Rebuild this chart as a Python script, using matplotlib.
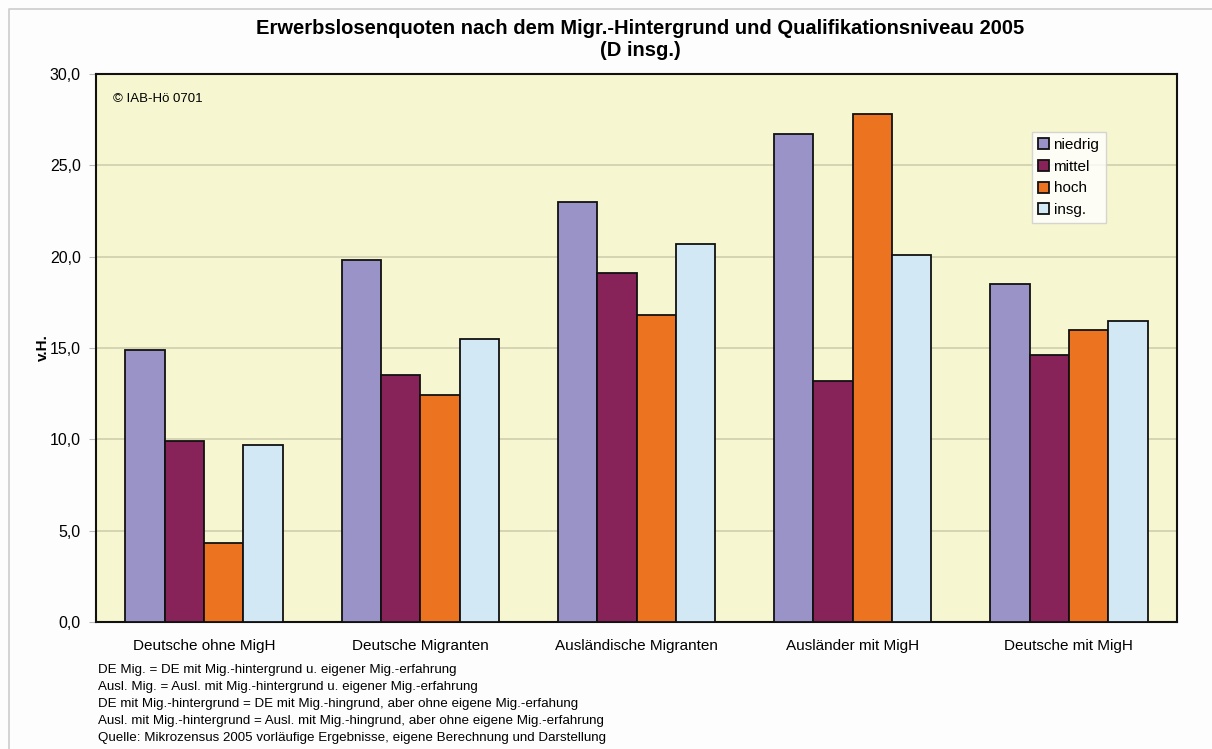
"""Erwerbslosenquoten nach Migrationshintergrund und Qualifikationsniveau 2005."""
import matplotlib
matplotlib.use("Agg")
import matplotlib.pyplot as plt
import numpy as np
from matplotlib.lines import Line2D

plt.rcParams["font.family"] = ["Liberation Sans", "DejaVu Sans"]

groups = ["Deutsche ohne MigH", "Deutsche Migranten", "Ausländische Migranten",
          "Ausländer mit MigH", "Deutsche mit MigH"]
series = ["niedrig", "mittel", "hoch", "insg."]
niedrig = [14.9, 19.8, 23.0, 26.7, 18.5]
mittel = [9.9, 13.5, 19.1, 13.2, 14.6]
hoch = [4.3, 12.4, 16.8, 27.8, 16.0]
insg = [9.7, 15.5, 20.7, 20.1, 16.5]
yticks = [0, 5, 10, 15, 20, 25, 30]
notes = [
    "DE Mig. = DE mit Mig.-hintergrund u. eigener Mig.-erfahrung",
    "Ausl. Mig. = Ausl. mit Mig.-hintergrund u. eigener Mig.-erfahrung",
    "DE mit Mig.-hintergrund = DE mit Mig.-hingrund, aber ohne eigene Mig.-erfahung",
    "Ausl. mit Mig.-hintergrund = Ausl. mit Mig.-hingrund, aber ohne eigene Mig.-erfahrung",
    "Quelle: Mikrozensus 2005 vorläufige Ergebnisse, eigene Berechnung und Darstellung",
]

colors = ["#9993c7", "#88235a", "#ec7320", "#d2e8f4"]
_BG = "#f6f6d0"

fig = plt.figure(figsize=(12.12, 7.49), dpi=100, facecolor="#fdfdfd")
# thin grey frame on the left and top only
fig.add_artist(Line2D([8.5 / 1212, 8.5 / 1212, 1], [0, 1 - 8.5 / 749, 1 - 8.5 / 749],
                      transform=fig.transFigure, color="#cccccc", lw=1.2))
ax = fig.add_axes([96 / 1212, 1 - 622 / 749, 1081 / 1212, 548 / 749])
ax.set_facecolor(_BG)

x = np.arange(len(groups))
w = 0.182
for i, (vals, lab) in enumerate(zip([niedrig, mittel, hoch, insg], series)):
    ax.bar(x + (i - 1.5) * w, vals, w, color=colors[i], edgecolor="#111111",
           linewidth=1.3, label=lab, zorder=3)

ax.set_xlim(-0.5, len(groups) - 0.5)
ax.set_ylim(0, 30)
ax.set_yticks(yticks)
ax.set_yticklabels([f"{v:.1f}".replace(".", ",") for v in yticks], fontsize=11.5)
ax.set_xticks(x)
ax.set_xticklabels(groups, fontsize=11)
ax.tick_params(axis="x", length=0, pad=12)
ax.tick_params(axis="y", length=5, color="#bbbbbb", pad=6)
ax.yaxis.grid(True, color="#cfcfae", lw=1.2, zorder=0)
for s in ax.spines.values():
    s.set_color("#111111"); s.set_linewidth(1.5)
ax.set_ylabel("v.H.", fontsize=11, fontweight="bold")
ax.yaxis.set_label_coords(-0.043, 0.5)

ax.text(0.016, 0.965, "© IAB-Hö 0701", transform=ax.transAxes, fontsize=9.5,
        va="top", ha="left")

leg = ax.legend(loc="upper left", bbox_to_anchor=(0.866, 0.894), fontsize=11,
                frameon=True, fancybox=False, handlelength=0.7, handleheight=0.75,
                handletextpad=0.3, labelspacing=0.5, borderpad=0.4,
                borderaxespad=0)
leg.get_frame().set_edgecolor("#cccccc")
leg.get_frame().set_linewidth(1.0)
leg.get_frame().set_facecolor("white")

fig.text(640 / 1212, 1 - 28 / 749, "Erwerbslosenquoten nach dem Migr.-Hintergrund und Qualifikationsniveau 2005",
         ha="center", va="center", fontsize=14.5, fontweight="bold")
fig.text(640 / 1212, 1 - 51 / 749, "(D insg.)", ha="center", va="center",
         fontsize=14.5, fontweight="bold")

for k, line in enumerate(notes):
    fig.text(98 / 1212, 1 - (670 + k * 17) / 749, line, ha="left", va="center",
             fontsize=9.6)

fig.savefig("out.png", facecolor=fig.get_facecolor())
